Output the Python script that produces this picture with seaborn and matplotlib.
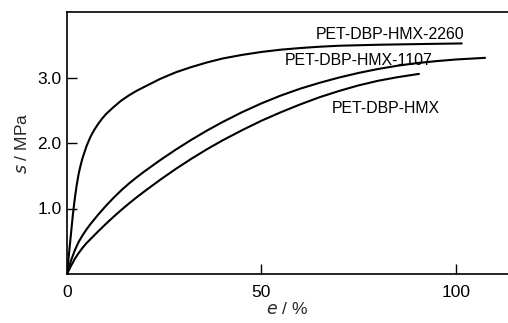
import matplotlib
matplotlib.use("Agg")
import matplotlib.pyplot as plt
import seaborn as sns
import pandas as pd

# strain e (%) and stress s (MPa)
x_2260 = [0, 0.5, 1.0, 1.5, 2.0, 2.5, 3.0, 3.5, 4.0, 5.0, 6.0, 7.0, 8.0, 9.0, 10, 12, 14,
          16, 18, 20, 24, 28, 32, 36, 40, 45, 50, 55, 60, 65, 70, 80, 90, 101.5]
y_2260 = [0, 0.30, 0.60, 0.90, 1.15, 1.36, 1.53, 1.66, 1.77, 1.95, 2.09, 2.20, 2.29, 2.37,
          2.44, 2.55, 2.65, 2.73, 2.80, 2.86, 2.98, 3.08, 3.16, 3.23, 3.29, 3.345, 3.39,
          3.425, 3.45, 3.47, 3.485, 3.50, 3.51, 3.52]

x_1107 = [0, 1, 2, 3, 4, 5, 6, 8, 10, 12, 14, 16, 18, 20, 24, 28, 32, 36, 40, 45, 50,
          55, 60, 65, 70, 75, 80, 85, 90, 95, 100, 107.5]
y_1107 = [0, 0.20, 0.36, 0.49, 0.59, 0.68, 0.76, 0.905, 1.04, 1.165, 1.28, 1.385, 1.48,
          1.57, 1.74, 1.90, 2.05, 2.19, 2.32, 2.47, 2.605, 2.725, 2.83, 2.92, 3.00, 3.07,
          3.13, 3.18, 3.22, 3.25, 3.275, 3.30]

x_hmx = [0, 1, 2, 3, 4, 5, 6, 8, 10, 12, 14, 16, 18, 20, 24, 28, 32, 36, 40, 45, 50,
         55, 60, 65, 70, 75, 80, 85, 90.5]
y_hmx = [0, 0.12, 0.23, 0.32, 0.40, 0.47, 0.53, 0.65, 0.765, 0.875, 0.98, 1.08, 1.175,
         1.265, 1.44, 1.605, 1.76, 1.905, 2.04, 2.195, 2.34, 2.47, 2.59, 2.70, 2.795,
         2.88, 2.95, 3.005, 3.055]

series_names = ["PET-DBP-HMX-2260", "PET-DBP-HMX-1107", "PET-DBP-HMX"]
label_pos = [(64.0, 3.66), (56.0, 3.26), (68.0, 2.52)]

x_ticks = [0, 50, 100]
x_ticklabels = ["0", "50", "100"]
y_ticks = [1, 2, 3]
y_ticklabels = ["1.0", "2.0", "3.0"]

sns.set_style("ticks")
plt.rcParams["font.family"] = ["Liberation Sans", "DejaVu Sans"]

fig = plt.figure(figsize=(5.08, 3.23), dpi=100)
ax = fig.add_axes([67 / 508, 49 / 323, 1 - 67 / 508, 262 / 323])

frames = []
for name, xs, ys in zip(series_names, [x_2260, x_1107, x_hmx], [y_2260, y_1107, y_hmx]):
    frames.append(pd.DataFrame({"e": xs, "s": ys, "series": name}))
df = pd.concat(frames, ignore_index=True)

sns.lineplot(data=df, x="e", y="s", units="series", estimator=None, sort=False,
             color="black", linewidth=1.5, ax=ax, legend=False)

for name, (lx, ly) in zip(series_names, label_pos):
    ax.text(lx, ly, name, fontsize=11.4, ha="left", va="center", color="black")

ax.set_xlim(0, 113.4)
ax.set_ylim(0, 4.0)
ax.set_xticks(x_ticks)
ax.set_xticklabels(x_ticklabels)
ax.set_yticks(y_ticks)
ax.set_yticklabels(y_ticklabels)
ax.tick_params(axis="both", direction="in", length=7, width=1.0, labelsize=12.5,
               colors="black")
ax.tick_params(axis="x", pad=8)
ax.tick_params(axis="y", pad=4)

for sp in ["left", "bottom", "top"]:
    ax.spines[sp].set_linewidth(1.2)
    ax.spines[sp].set_color("black")
ax.spines["right"].set_visible(False)

ax.set_xlabel("$\\it{e}$ / %", fontsize=12.5, labelpad=1)
ax.set_ylabel("$\\it{s}$ / MPa", fontsize=12.5, labelpad=5)

fig.savefig("out.png", dpi=100)
